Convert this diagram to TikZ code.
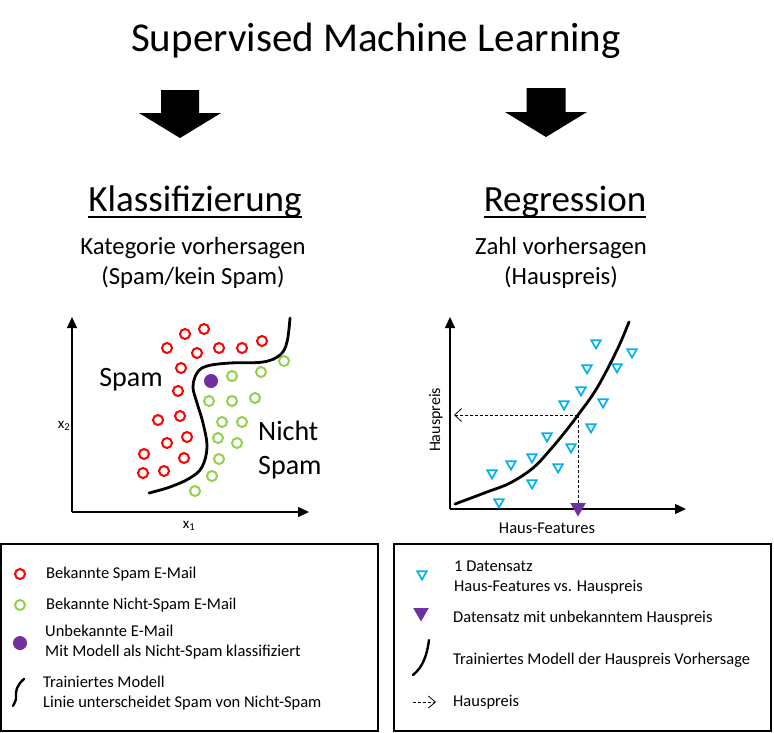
\documentclass[tikz,border=0pt]{standalone}
\usepackage{fontspec}
\setmainfont{Carlito}
\usetikzlibrary{positioning,arrows.meta,shapes.geometric}

\definecolor{spamred}{RGB}{255,0,0}
\definecolor{hamgreen}{RGB}{146,208,80}
\definecolor{mailpurple}{RGB}{112,48,160}
\definecolor{housecyan}{RGB}{0,176,240}

\tikzset{
	spam/.style={circle, draw=spamred, line width=2pt, minimum size=10pt, inner sep=0pt},
	ham/.style={spam, draw=hamgreen},
	newmail/.style={circle, fill=mailpurple, minimum size=14pt, inner sep=0pt},
	house/.style={regular polygon, regular polygon sides=3, shape border rotate=180,
			draw=housecyan, line width=1.7pt, minimum size=11pt, inner sep=0pt},
	newhouse/.style={regular polygon, regular polygon sides=3, shape border rotate=180,
			fill=mailpurple, minimum size=18pt, inner sep=0pt},
	axis/.style={line width=1.3pt, -{Triangle[length=11pt,width=10pt]}},
	model/.style={line width=2.8pt, line cap=round},
	guess/.style={dash pattern=on 3pt off 2pt, line width=0.8pt},
	legendbox/.style={draw, line width=1.3pt},
	txt/.style={inner sep=0pt, anchor=base},
	legtxt/.style={inner sep=0pt, anchor=west, align=left,
			font=\fontsize{16.5}{20}\selectfont}
}

\begin{document}
\begin{tikzpicture}[x=1pt, y=-1pt]
	\useasboundingbox (0,0) rectangle (774,732);

	% Titel
	\node[txt, font=\fontsize{41}{49}\selectfont] (title) at (376,51) {Supervised Machine Learning};

	% Block-Pfeile
	\fill (180,90) ++(-19,0) -- ++(38,0) -- ++(0,23) -- ++(22,0) -- ++(-41,25)
	-- ++(-41,-25) -- ++(22,0) -- cycle;
	\fill (546,88) ++(-19.5,0) -- ++(39,0) -- ++(0,24) -- ++(21.5,0) -- ++(-41,25)
	-- ++(-41,-25) -- ++(21.5,0) -- cycle;

	% Klassifizierung
	\node[txt, font=\fontsize{37}{44}\selectfont] (klass) at (195,211) {Klassifizierung};
	\draw[line width=1.8pt] ([yshift=-6pt]klass.base west) -- ([yshift=-6pt]klass.base east);
	\node[txt, font=\fontsize{24.7}{30}\selectfont] (katA) at (193,254) {Kategorie vorhersagen};
	\node[txt, font=\fontsize{24.7}{30}\selectfont] (katB) at (193,284) {(Spam/kein Spam)};

	% Regression
	\node[txt, font=\fontsize{37}{44}\selectfont] (regr) at (565,211) {Regression};
	\draw[line width=1.8pt] ([yshift=-6pt]regr.base west) -- ([yshift=-6pt]regr.base east);
	\node[txt, font=\fontsize{24.7}{30}\selectfont] (zahlA) at (561,254) {Zahl vorhersagen};
	\node[txt, font=\fontsize{24.7}{30}\selectfont] (zahlB) at (561,284) {(Hauspreis)};

	% Spam-Plot
	\coordinate (o1) at (72,512);
	\coordinate (y1) at (72,317);
	\coordinate (x1) at (309,512);
	\draw[axis] (o1) -- (y1);
	\draw[axis] (o1) -- (x1);
	\node[font=\fontsize{15}{18}\selectfont] (lx2) at (64,426) {x\textsubscript{2}};
	\node[font=\fontsize{15}{18}\selectfont] (lx1) at (189,526) {x\textsubscript{1}};

	\foreach \x/\y [count=\i] in {185/334, 204/329, 167/348, 197/353, 219/348, 242/348,
			262/341, 181/368, 178/391, 158/420, 180/416, 167/443, 187/437, 144/454,
			184/458, 143/473, 164/471}
	\node[spam] (spam-\i) at (\x,\y) {};

	\foreach \x/\y [count=\i] in {284/361, 261/372, 232/376, 209/401, 232/401, 255/398,
			222/422, 242/422, 218/438, 237/443, 219/459, 212/476, 195/491}
	\node[ham] (ham-\i) at (\x,\y) {};

	\node[newmail] (mail) at (211,381) {};

	\draw[model] plot[smooth, tension=0.6] coordinates {(149,493) (170,487) (190,478)
			(202,467) (207,447) (203,423) (197,403) (193,387) (197,373) (207,366)
			(230,363) (263,362) (280,355) (287,342) (290,318)};

	\node[txt, font=\fontsize{28}{34}\selectfont] (lspam) at (131,386) {Spam};
	\node[txt, anchor=base west, font=\fontsize{28}{34}\selectfont] (lnicht) at (258,440) {Nicht};
	\node[txt, anchor=base west, font=\fontsize{28}{34}\selectfont] (lspam2) at (258,474) {Spam};

	% Hauspreis-Plot
	\coordinate (o2) at (450,509);
	\coordinate (y2) at (450,317);
	\coordinate (x2) at (686,509);
	\draw[axis] (o2) -- (y2);
	\draw[axis] (o2) -- (x2);
	\node[rotate=90, font=\fontsize{16}{19}\selectfont] (lpreis) at (436,420) {Hauspreis};
	\node[font=\fontsize{16.5}{20}\selectfont] (lfeat) at (547,528) {Haus-Features};

	\foreach \x/\y [count=\i] in {596/343, 632/352, 587/368, 617/367, 581/390, 603/402,
			564/404, 591/427, 547/436, 571/447, 532/457, 511/464, 558/467, 492/473,
			532/483, 499/502}
	\node[house] (house-\i) at (\x,\y) {};

	\draw[model] plot[smooth, tension=0.6] coordinates {(455,504) (487,492) (510,483)
			(533,468) (550,450) (565,432) (578,415) (597,388) (617,350) (629,322)};

	\coordinate (hit) at (578,415);
	\coordinate (price) at (454,415);
	\node[newhouse] (query) at (578,507.5) {};
	\draw[guess, -{Straight Barb[length=7pt,width=13pt]}] (hit) -- (price);
	\draw[guess] (hit) -- (query);

	% Legende links
	\draw[legendbox] (1,544) rectangle (378,731);
	\node[spam] (legspam) at (20,574) {};
	\node[legtxt] (legspamtxt) at (46,574) {Bekannte Spam E-Mail};
	\node[ham] (legham) at (20,605) {};
	\node[legtxt] (leghamtxt) at (46,605) {Bekannte Nicht-Spam E-Mail};
	\node[newmail] (legmail) at (20,643) {};
	\node[legtxt] (legmailtxt) at (45,642.5) {Unbekannte E-Mail\\Mit Modell als Nicht-Spam klassifiziert};
	\draw[model, line width=2.4pt] plot[smooth, tension=0.7] coordinates {(13,706) (16,699)
			(16,693) (17,688) (20,683) (24,679)};
	\node[legtxt] (legmodeltxt) at (43,693) {Trainiertes Modell\\Linie unterscheidet Spam von Nicht-Spam};

	% Legende rechts
	\draw[legendbox] (394,544) rectangle (771,731);
	\node[house] (leghouse) at (422,574) {};
	\node[legtxt] (leghousetxt) at (454,577.5) {1 Datensatz\\Haus-Features vs. Hauspreis};
	\node[newhouse] (legquery) at (421,612.5) {};
	\node[legtxt] (legquerytxt) at (453,618) {Datensatz mit unbekanntem Hauspreis};
	\draw[model, line width=2.4pt] (413,675) .. controls (423,667) and (427,655) .. (429,640);
	\node[legtxt] (legcurvetxt) at (453,660) {Trainiertes Modell der Hauspreis Vorhersage};
	\coordinate (legarrA) at (413,702);
	\coordinate (legarrB) at (436,702);
	\draw[guess, -{Straight Barb[length=7pt,width=12pt]}] (legarrA) -- (legarrB);
	\node[legtxt] (legarrtxt) at (453,702) {Hauspreis};
\end{tikzpicture}
\end{document}
